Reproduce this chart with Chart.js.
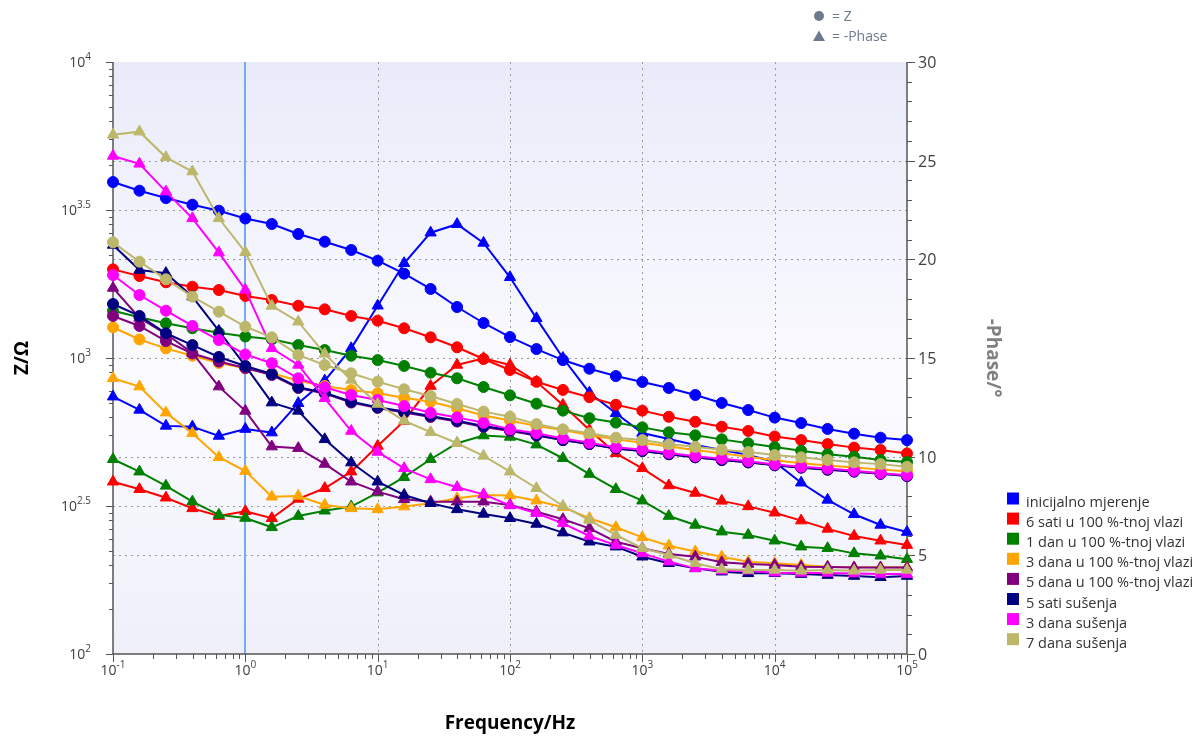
<!DOCTYPE html>
<html>
<head>
<meta charset="utf-8">
<script src="https://cdn.jsdelivr.net/npm/chart.js@4.4.1/dist/chart.umd.min.js"></script>
<style>
  html, body { margin: 0; padding: 0; background: #ffffff; }
  #wrap { width: 1204px; height: 741px; }
</style>
</head>
<body>
<div id="wrap"><canvas id="bode" width="1204" height="741"></canvas></div>
<script>
// frequency points (Hz), 5 per decade
const frequencies = [0.1, 0.1585, 0.2512, 0.3981, 0.631, 1, 1.585, 2.512, 3.981, 6.31,
  10, 15.85, 25.12, 39.81, 63.1, 100, 158.5, 251.2, 398.1, 631,
  1000, 1585, 2512, 3981, 6310, 10000, 15850, 25120, 39810, 63100, 100000];

const seriesNames = ["inicijalno mjerenje", "6 sati u 100 %-tnoj vlazi", "1 dan u 100 %-tnoj vlazi",
  "3 dana u 100 %-tnoj vlazi", "5 dana u 100 %-tnoj vlazi", "5 sati sušenja", "3 dana sušenja", "7 dana sušenja"];
const seriesColors = ["#0000ff", "#ff0000", "#008000", "#ffa500", "#800080", "#000080", "#ff00ff", "#bdb76b"];

// |Z| in Ohm
const zInicijalno = [3930, 3675, 3470, 3295, 3145, 2960, 2836, 2624, 2471, 2317, 2132, 1927, 1711, 1487, 1313, 1177, 1072, 984, 920, 869, 830, 792, 750, 705, 667, 629, 603, 576, 555, 538, 528];
const zSati6 = [1993, 1892, 1802, 1741, 1697, 1620, 1570, 1502, 1460, 1387, 1337, 1260, 1175, 1087, 992, 911, 831, 780, 737, 695, 664, 633, 609, 586, 567, 543, 528, 512, 498, 489, 476];
const zDan1 = [1444, 1373, 1310, 1260, 1218, 1182, 1157, 1106, 1064, 1018, 984, 940, 892, 854, 798, 748, 701, 664, 626, 605, 583, 561, 548, 531, 515, 500, 486, 473, 464, 452, 445];
const zDana3 = [1270, 1155, 1078, 1018, 962, 923, 888, 838, 804, 779, 760, 734, 712, 676, 639, 615, 589, 571, 549, 531, 517, 502, 489, 477, 464, 451, 441, 433, 427, 420, 414];
const zDana5 = [1387, 1283, 1141, 1036, 973, 925, 876, 792, 759, 707, 678, 655, 632, 610, 585, 567, 547, 528, 512, 495, 485, 473, 462, 452, 444, 435, 427, 421, 414, 407, 400];
const zSati5Sus = [1522, 1387, 1212, 1106, 1008, 940, 883, 796, 763, 712, 682, 659, 637, 614, 589, 571, 549, 528, 512, 495, 485, 473, 462, 452, 444, 434, 426, 419, 413, 406, 399];
const zDana3Sus = [1907, 1632, 1445, 1283, 1150, 1028, 960, 854, 796, 750, 721, 688, 653, 630, 604, 574, 557, 535, 517, 499, 490, 478, 466, 457, 448, 437, 429, 423, 416, 408, 402];
const zDana7Sus = [2459, 2115, 1845, 1611, 1434, 1276, 1175, 1024, 947, 888, 832, 784, 744, 699, 659, 633, 598, 574, 557, 538, 528, 511, 501, 490, 481, 470, 462, 452, 444, 438, 429];

// -Phase in degrees
const phInicijalno = [13.04, 12.37, 11.56, 11.52, 11.05, 11.40, 11.22, 12.71, 13.85, 15.49, 17.65, 19.80, 21.35, 21.78, 20.83, 19.09, 17.01, 15.00, 13.24, 12.20, 11.20, 10.90, 10.59, 10.34, 10.09, 9.73, 8.68, 7.81, 7.08, 6.54, 6.18];
const phSati6 = [8.73, 8.35, 7.92, 7.38, 6.99, 7.23, 6.88, 7.86, 8.40, 9.24, 10.54, 11.81, 13.58, 14.65, 14.99, 14.65, 13.80, 12.62, 11.35, 10.17, 9.41, 8.54, 8.16, 7.76, 7.48, 7.16, 6.76, 6.34, 5.98, 5.74, 5.52];
const phDan1 = [9.87, 9.24, 8.52, 7.72, 7.05, 6.89, 6.42, 6.99, 7.26, 7.47, 8.18, 8.96, 9.87, 10.68, 11.07, 11.00, 10.61, 9.92, 9.12, 8.35, 7.77, 6.99, 6.54, 6.20, 6.03, 5.74, 5.44, 5.36, 5.10, 4.98, 4.80];
const phDana3 = [13.97, 13.55, 12.23, 11.19, 9.97, 9.27, 7.97, 8.01, 7.55, 7.38, 7.33, 7.47, 7.64, 7.89, 8.06, 8.03, 7.77, 7.44, 6.88, 6.42, 5.91, 5.49, 5.19, 4.93, 4.68, 4.60, 4.51, 4.42, 4.39, 4.39, 4.39];
const phDana5 = [18.55, 17.03, 16.22, 15.26, 13.55, 12.32, 10.51, 10.43, 9.63, 8.73, 8.23, 7.84, 7.72, 7.72, 7.72, 7.55, 7.21, 6.83, 6.37, 5.69, 5.36, 5.07, 4.93, 4.65, 4.56, 4.51, 4.42, 4.41, 4.38, 4.38, 4.38];
const phSati5Sus = [20.73, 19.46, 19.30, 18.11, 16.37, 14.60, 12.74, 12.32, 10.88, 9.70, 8.73, 8.06, 7.64, 7.33, 7.10, 6.88, 6.59, 6.15, 5.69, 5.44, 4.93, 4.60, 4.34, 4.17, 4.09, 4.09, 4.05, 4.00, 3.95, 3.89, 3.95];
const phDana3Sus = [25.24, 24.84, 23.43, 22.08, 20.34, 18.45, 15.49, 14.65, 12.96, 11.30, 10.24, 9.41, 8.85, 8.45, 8.09, 7.53, 7.13, 6.62, 5.98, 5.52, 5.10, 4.68, 4.34, 4.22, 4.22, 4.12, 4.11, 4.11, 4.08, 4.05, 4.05];
const phDana7Sus = [26.31, 26.47, 25.17, 24.45, 22.08, 20.36, 17.64, 16.84, 15.21, 13.89, 12.67, 11.82, 11.24, 10.68, 10.04, 9.24, 8.40, 7.50, 6.79, 6.03, 5.36, 5.02, 4.60, 4.29, 4.26, 4.26, 4.22, 4.26, 4.22, 4.26, 4.26];

// axis tick labels
const xTickExponents = ["-1", "0", "1", "2", "3", "4", "5"];
const zTickExponents = ["2", "2.5", "3", "3.5", "4"];
const phaseTickLabels = ["0", "5", "10", "15", "20", "25", "30"];

const zSeries = [zInicijalno, zSati6, zDan1, zDana3, zDana5, zSati5Sus, zDana3Sus, zDana7Sus];
const phSeries = [phInicijalno, phSati6, phDan1, phDana3, phDana5, phSati5Sus, phDana3Sus, phDana7Sus];

const FONT = '"Segoe UI", "Open Sans", sans-serif';

var datasets = [];
for (let k = 0; k < seriesNames.length; k++) {
  datasets.push({
    label: seriesNames[k] + " Z",
    data: frequencies.map((f, i) => ({x: f, y: zSeries[k][i]})),
    yAxisID: "y",
    borderColor: seriesColors[k],
    backgroundColor: seriesColors[k],
    pointStyle: "circle",
    pointRadius: 5.5,
    pointBorderWidth: 1,
    borderWidth: 2,
    order: 20 - k,
    clip: false
  });
  datasets.push({
    label: seriesNames[k] + " -Phase",
    data: frequencies.map((f, i) => ({x: f, y: phSeries[k][i]})),
    yAxisID: "y1",
    borderColor: seriesColors[k],
    backgroundColor: seriesColors[k],
    pointStyle: "triangle",
    pointRadius: 6.5,
    pointBorderWidth: 1,
    borderWidth: 2,
    order: 20 - k,
    clip: false
  });
}

// draws "10" with a raised exponent
function drawPower(ctx, exp, x, y, align) {
  ctx.font = "14px " + FONT;
  var w1 = ctx.measureText("10").width;
  ctx.font = "10px " + FONT;
  var w2 = ctx.measureText(exp).width;
  var start = align === "right" ? x - w1 - w2 : x - (w1 + w2) / 2;
  ctx.textAlign = "left";
  ctx.font = "14px " + FONT;
  ctx.fillText("10", start, y);
  ctx.font = "10px " + FONT;
  ctx.fillText(exp, start + w1, y - 7);
}

const decorPlugin = {
  id: "decor",
  beforeDatasetsDraw(chart) {
    const ctx = chart.ctx, a = chart.chartArea;
    const sx = chart.scales.x, sy = chart.scales.y, sy1 = chart.scales.y1;
    ctx.save();

    // plot background
    var g = ctx.createLinearGradient(0, a.top, 0, a.bottom);
    g.addColorStop(0, "#e9ebf9");
    g.addColorStop(0.55, "#fbfbff");
    g.addColorStop(1, "#eeeff9");
    ctx.fillStyle = g;
    ctx.fillRect(a.left, a.top, a.right - a.left, a.bottom - a.top);

    // grid lines
    ctx.lineWidth = 1;
    ctx.strokeStyle = "#9a9a9a";
    ctx.setLineDash([2, 4]);
    [10, 100, 1000, 10000].forEach(v => {
      var px = Math.round(sx.getPixelForValue(v)) + 0.5;
      ctx.beginPath(); ctx.moveTo(px, a.top); ctx.lineTo(px, a.bottom); ctx.stroke();
    });
    [Math.pow(10, 2.5), 1000, Math.pow(10, 3.5)].forEach(v => {
      var py = Math.round(sy.getPixelForValue(v)) + 0.5;
      ctx.beginPath(); ctx.moveTo(a.left, py); ctx.lineTo(a.right, py); ctx.stroke();
    });
    [5, 10, 20, 25].forEach(v => {
      var py = Math.round(sy1.getPixelForValue(v)) + 0.5;
      ctx.beginPath(); ctx.moveTo(a.left, py); ctx.lineTo(a.right, py); ctx.stroke();
    });
    ctx.setLineDash([]);

    // cursor line at 1 Hz
    ctx.strokeStyle = "#7aa8f4";
    ctx.lineWidth = 2;
    var cx = Math.round(sx.getPixelForValue(1));
    ctx.beginPath(); ctx.moveTo(cx, a.top); ctx.lineTo(cx, a.bottom); ctx.stroke();

    // axis lines
    ctx.strokeStyle = "#555555";
    ctx.lineWidth = 1.5;
    ctx.beginPath();
    ctx.moveTo(a.left, a.top); ctx.lineTo(a.left, a.bottom); ctx.lineTo(a.right, a.bottom); ctx.lineTo(a.right, a.top);
    ctx.stroke();

    // tick marks
    ctx.lineWidth = 1;
    ctx.beginPath();
    for (let d = -1; d <= 5; d++) {
      var px = Math.round(sx.getPixelForValue(Math.pow(10, d))) + 0.5;
      ctx.moveTo(px, a.bottom); ctx.lineTo(px, a.bottom + 8);
      if (d < 5) {
        for (let m = 2; m <= 9; m++) {
          var mx = Math.round(sx.getPixelForValue(m * Math.pow(10, d))) + 0.5;
          ctx.moveTo(mx, a.bottom); ctx.lineTo(mx, a.bottom + 5);
        }
      }
    }
    for (let e = 0; e <= 4; e++) {
      var base = 2 + e * 0.5;
      var py = Math.round(sy.getPixelForValue(Math.pow(10, base))) + 0.5;
      ctx.moveTo(a.left - 7, py); ctx.lineTo(a.left, py);
      if (e < 4) {
        for (let m = 2; m <= 9; m++) {
          var my = Math.round(sy.getPixelForValue(Math.pow(10, base + 0.5 * Math.log10(m)))) + 0.5;
          ctx.moveTo(a.left - 4, my); ctx.lineTo(a.left, my);
        }
      }
    }
    for (let p = 0; p <= 30; p++) {
      var py1 = Math.round(sy1.getPixelForValue(p)) + 0.5;
      ctx.moveTo(a.right, py1); ctx.lineTo(a.right + (p % 5 === 0 ? 8 : 5), py1);
    }
    ctx.stroke();

    // tick labels
    ctx.fillStyle = "#404040";
    ctx.textBaseline = "alphabetic";
    xTickExponents.forEach((ex, i) => {
      drawPower(ctx, ex, sx.getPixelForValue(Math.pow(10, i - 1)), a.bottom + 21, "center");
    });
    zTickExponents.forEach((ex, i) => {
      drawPower(ctx, ex, a.left - 22, sy.getPixelForValue(Math.pow(10, 2 + i * 0.5)) + 5, "right");
    });
    ctx.font = "16px " + FONT;
    ctx.textAlign = "left";
    phaseTickLabels.forEach(lbl => {
      ctx.fillText(lbl, a.right + 11, sy1.getPixelForValue(Number(lbl)) + 6);
    });

    // axis titles
    ctx.font = "bold 19px " + FONT;
    ctx.fillStyle = "#000000";
    ctx.textAlign = "center";
    ctx.fillText("Frequency/Hz", (a.left + a.right) / 2, 729);
    ctx.save();
    ctx.translate(28, (a.top + a.bottom) / 2);
    ctx.rotate(-Math.PI / 2);
    ctx.fillText("Z/Ω", 0, 0);
    ctx.restore();
    ctx.save();
    ctx.fillStyle = "#808080";
    ctx.translate(987, (a.top + a.bottom) / 2);
    ctx.rotate(Math.PI / 2);
    ctx.fillText("-Phase/°", 0, 0);
    ctx.restore();

    // series legend
    ctx.font = "14.5px " + FONT;
    ctx.textAlign = "left";
    seriesNames.forEach((name, i) => {
      var top = 492.5 + i * 20.1;
      ctx.fillStyle = seriesColors[i];
      ctx.fillRect(1007, top, 12, 12);
      ctx.fillStyle = "#333333";
      ctx.fillText(name, 1026, top + 14.5);
    });

    // marker legend
    ctx.fillStyle = "#6b7a8c";
    ctx.font = "14px " + FONT;
    ctx.beginPath(); ctx.arc(819, 16, 5, 0, Math.PI * 2); ctx.fill();
    ctx.beginPath(); ctx.moveTo(819, 30.5); ctx.lineTo(825, 41); ctx.lineTo(813, 41); ctx.closePath(); ctx.fill();
    ctx.fillText("= Z", 832, 21);
    ctx.fillText("= -Phase", 832, 41);

    ctx.restore();
  }
};

new Chart(document.getElementById("bode"), {
  type: "line",
  data: { datasets: datasets },
  options: {
    responsive: false,
    animation: false,
    events: [],
    layout: { padding: { left: 113, right: 297, top: 62, bottom: 87 } },
    elements: { line: { tension: 0 } },
    scales: {
      x: { type: "logarithmic", min: 0.1, max: 100000, display: false },
      y: { type: "logarithmic", position: "left", min: 100, max: 10000, display: false },
      y1: { type: "linear", position: "right", min: 0, max: 30, display: false }
    },
    plugins: { legend: { display: false }, tooltip: { enabled: false } }
  },
  plugins: [decorPlugin]
});
</script>
</body>
</html>
